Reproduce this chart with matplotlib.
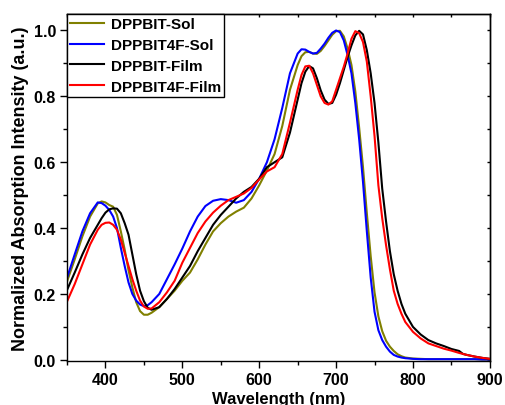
import matplotlib
matplotlib.use("Agg")
import matplotlib.pyplot as plt
from matplotlib.ticker import MultipleLocator

plt.rcParams['font.family'] = ['Liberation Sans', 'DejaVu Sans']
plt.rcParams['font.weight'] = 'bold'

# wavelength grid (nm)
wl = [350, 360, 370, 380, 390, 395, 400, 405, 410, 415, 420, 425, 430, 435, 440, 445,
      450, 455, 460, 470, 480, 490, 500, 510, 520, 530, 540, 550, 560, 570, 580, 590,
      600, 610, 620, 630, 640, 650, 655, 660, 665, 670, 675, 680, 685, 690, 695, 700,
      705, 710, 715, 720, 725, 730, 735, 740, 745, 750, 755, 760, 765, 770, 775, 780,
      785, 790, 800, 810, 820, 830, 840, 850, 860, 865, 870, 880, 890, 900]

dppbit_sol = [0.238, 0.305, 0.375, 0.435, 0.475, 0.481, 0.478, 0.470, 0.465, 0.440, 0.390, 0.335, 0.272, 0.220, 0.175, 0.148,
              0.137, 0.137, 0.143, 0.160, 0.185, 0.210, 0.240, 0.265, 0.305, 0.350, 0.390, 0.415, 0.435, 0.450, 0.462, 0.490,
              0.530, 0.575, 0.625, 0.710, 0.820, 0.895, 0.922, 0.934, 0.935, 0.930, 0.929, 0.938, 0.953, 0.970, 0.987, 0.998,
              0.999, 0.982, 0.945, 0.895, 0.815, 0.705, 0.585, 0.445, 0.315, 0.205, 0.132, 0.087, 0.058, 0.040, 0.027, 0.017,
              0.011, 0.007, 0.004, 0.003, 0.002, 0.002, 0.002, 0.002, 0.002, 0.002, 0.002, 0.002, 0.001, 0.001]

dppbit4f_sol = [0.249, 0.320, 0.390, 0.445, 0.478, 0.476, 0.468, 0.455, 0.435, 0.400, 0.340, 0.285, 0.235, 0.200, 0.180, 0.168,
                0.163, 0.166, 0.175, 0.200, 0.245, 0.290, 0.338, 0.390, 0.435, 0.467, 0.483, 0.488, 0.485, 0.477, 0.485, 0.510,
                0.550, 0.600, 0.670, 0.765, 0.870, 0.930, 0.943, 0.942, 0.935, 0.930, 0.932, 0.945, 0.960, 0.978, 0.993, 1.000,
                0.995, 0.970, 0.925, 0.870, 0.780, 0.670, 0.540, 0.390, 0.250, 0.146, 0.090, 0.060, 0.040, 0.025, 0.015, 0.010,
                0.007, 0.005, 0.003, 0.002, 0.002, 0.002, 0.002, 0.002, 0.002, 0.002, 0.002, 0.002, 0.001, 0.001]

dppbit_film = [0.212, 0.265, 0.320, 0.370, 0.410, 0.430, 0.447, 0.457, 0.460, 0.459, 0.445, 0.415, 0.380, 0.320, 0.260, 0.210,
               0.178, 0.158, 0.152, 0.160, 0.185, 0.215, 0.250, 0.285, 0.330, 0.370, 0.410, 0.440, 0.465, 0.490, 0.510, 0.525,
               0.550, 0.585, 0.600, 0.615, 0.690, 0.790, 0.840, 0.875, 0.892, 0.885, 0.855, 0.818, 0.790, 0.777, 0.780, 0.805,
               0.840, 0.880, 0.920, 0.955, 0.985, 0.999, 0.988, 0.940, 0.870, 0.780, 0.660, 0.520, 0.420, 0.330, 0.260, 0.210,
               0.170, 0.140, 0.100, 0.077, 0.060, 0.050, 0.042, 0.033, 0.027, 0.018, 0.015, 0.010, 0.006, 0.003]

dppbit4f_film = [0.177, 0.230, 0.290, 0.350, 0.395, 0.410, 0.416, 0.417, 0.410, 0.395, 0.365, 0.325, 0.285, 0.245, 0.210, 0.180,
                 0.162, 0.155, 0.156, 0.175, 0.205, 0.240, 0.295, 0.340, 0.385, 0.420, 0.447, 0.468, 0.485, 0.495, 0.505, 0.522,
                 0.548, 0.572, 0.585, 0.625, 0.720, 0.820, 0.865, 0.891, 0.893, 0.870, 0.835, 0.800, 0.780, 0.775, 0.785, 0.820,
                 0.855, 0.890, 0.930, 0.975, 0.998, 0.992, 0.965, 0.905, 0.800, 0.680, 0.530, 0.430, 0.348, 0.275, 0.210, 0.170,
                 0.140, 0.115, 0.085, 0.065, 0.050, 0.042, 0.034, 0.028, 0.021, 0.018, 0.015, 0.010, 0.006, 0.003]

series = [
    ('DPPBIT-Sol', dppbit_sol, '#808000'),
    ('DPPBIT4F-Sol', dppbit4f_sol, '#0000ff'),
    ('DPPBIT-Film', dppbit_film, '#000000'),
    ('DPPBIT4F-Film', dppbit4f_film, '#ff0000'),
]

fig = plt.figure(figsize=(5.05, 4.06), dpi=100)
ax = fig.add_axes([0.1327, 0.1096, 0.8373, 0.8534])

for name, vals, col in series:
    ax.plot(wl, vals, color=col, lw=1.5, label=name)

ax.set_xlim(350, 900)
ax.set_ylim(-0.002, 1.05)
ax.xaxis.set_major_locator(MultipleLocator(100))
ax.xaxis.set_minor_locator(MultipleLocator(50))
ax.yaxis.set_major_locator(MultipleLocator(0.2))
ax.yaxis.set_minor_locator(MultipleLocator(0.1))
ax.tick_params(which='major', direction='out', length=5, width=1, labelsize=11.5, pad=3)
ax.tick_params(which='minor', direction='out', length=2.8, width=1)
for lab in ax.get_xticklabels() + ax.get_yticklabels():
    lab.set_fontweight('bold')

# mirrored ticks pointing inward on top and right
top = ax.secondary_xaxis('top')
top.xaxis.set_major_locator(MultipleLocator(50))
top.tick_params(direction='in', length=2.5, width=1, labeltop=False)
right = ax.secondary_yaxis('right')
right.yaxis.set_major_locator(MultipleLocator(0.1))
right.tick_params(direction='in', length=2.5, width=1, labelright=False)

for sp in list(ax.spines.values()) + [top.spines['top'], right.spines['right']]:
    sp.set_linewidth(1.0)

ax.set_xlabel('Wavelength (nm)', fontsize=12, fontweight='bold', labelpad=3)
ax.set_ylabel('Normalized Absorption Intensity (a.u.)', fontsize=13, fontweight='bold', labelpad=3)

leg = ax.legend(loc='upper left', fontsize=11, frameon=True, fancybox=False,
                edgecolor='black', framealpha=1, borderaxespad=0, borderpad=0.2,
                handlelength=2.2, handletextpad=0.45, labelspacing=0.45)
leg.get_frame().set_linewidth(1.0)
for t in leg.get_texts():
    t.set_fontweight('bold')

fig.savefig('out.png', dpi=100)
